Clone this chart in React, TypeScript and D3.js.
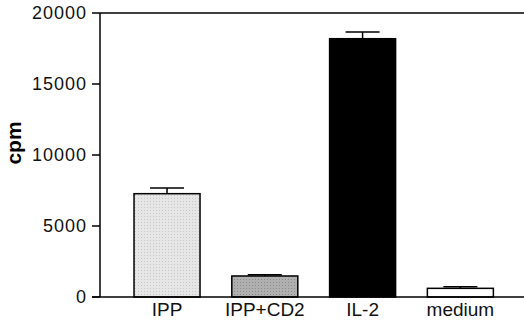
import React from "react";
import * as d3 from "d3";

const categories = ["IPP", "IPP+CD2", "IL-2", "medium"];
const means = [7275, 1480, 18190, 610];
const errors = [400, 90, 470, 110];
const fills = ["#e2e2e2", "#a9a9a9", "#000000", "#ffffff"];
const yTicks = [0, 5000, 10000, 15000, 20000];

const width = 524;
const height = 324;
const margin = { top: 13, right: 0, bottom: 27, left: 100 };

export default function App() {
  const x = d3
    .scaleBand()
    .domain(categories)
    .range([margin.left, 527.4])
    .paddingInner(0.325)
    .paddingOuter(0.348);

  const y = d3
    .scaleLinear()
    .domain([0, 20000])
    .range([height - margin.bottom, margin.top]);

  const font = "Arial, 'Liberation Sans', Helvetica, sans-serif";
  const capW = 34;

  return (
    <svg
      width={width}
      height={height}
      style={{ position: "absolute", left: 0, top: 0, background: "#fff" }}
    >
      <defs>
        <pattern id="stip1" width="3" height="3" patternUnits="userSpaceOnUse">
          <rect width="3" height="3" fill="#e6e6e6" />
          <rect width="1" height="1" fill="#c8c8c8" />
        </pattern>
        <pattern id="stip2" width="3" height="3" patternUnits="userSpaceOnUse">
          <rect width="3" height="3" fill="#b0b0b0" />
          <rect width="1" height="1" fill="#8a8a8a" />
        </pattern>
      </defs>

      {/* bars */}
      {categories.map((c, i) => {
        const x0 = x(c)!;
        const cx = x0 + x.bandwidth() / 2;
        const fill = i === 0 ? "url(#stip1)" : i === 1 ? "url(#stip2)" : fills[i];
        return (
          <g key={c}>
            <line
              x1={cx}
              x2={cx}
              y1={y(means[i])}
              y2={y(means[i] + errors[i])}
              stroke="#000"
              strokeWidth={1.5}
            />
            <line
              x1={cx - capW / 2}
              x2={cx + capW / 2}
              y1={y(means[i] + errors[i])}
              y2={y(means[i] + errors[i])}
              stroke="#000"
              strokeWidth={1.5}
            />
            <rect
              x={x0}
              y={y(means[i])}
              width={x.bandwidth()}
              height={y(0) - y(means[i])}
              fill={fill}
              stroke="#000"
              strokeWidth={1.5}
            />
          </g>
        );
      })}

      {/* axes */}
      <line x1={margin.left} x2={margin.left} y1={y(20000)} y2={y(0)} stroke="#000" strokeWidth={1.5} />
      <line x1={margin.left} x2={width} y1={y(20000)} y2={y(20000)} stroke="#000" strokeWidth={1.5} />
      <line x1={margin.left - 8} x2={width} y1={y(0)} y2={y(0)} stroke="#000" strokeWidth={1.5} />
      {yTicks.map((t) => (
        <g key={t}>
          <line x1={margin.left - 8} x2={margin.left} y1={y(t)} y2={y(t)} stroke="#000" strokeWidth={1.5} />
          <text
            x={87}
            y={y(t)}
            dy="0.35em"
            textAnchor="end"
            fontFamily={font}
            fontSize={18}
            letterSpacing={1}
            fill="#111"
          >
            {t}
          </text>
        </g>
      ))}

      {categories.map((c) => (
        <text
          key={c}
          x={x(c)! + x.bandwidth() / 2}
          y={316}
          textAnchor="middle"
          fontFamily={font}
          fontSize={19}
          fill="#111"
        >
          {c}
        </text>
      ))}

      <text
        transform={`translate(21,143) rotate(-90)`}
        textAnchor="middle"
        fontFamily={font}
        fontSize={21}
        fontWeight="bold"
        fill="#000"
      >
        cpm
      </text>
    </svg>
  );
}
